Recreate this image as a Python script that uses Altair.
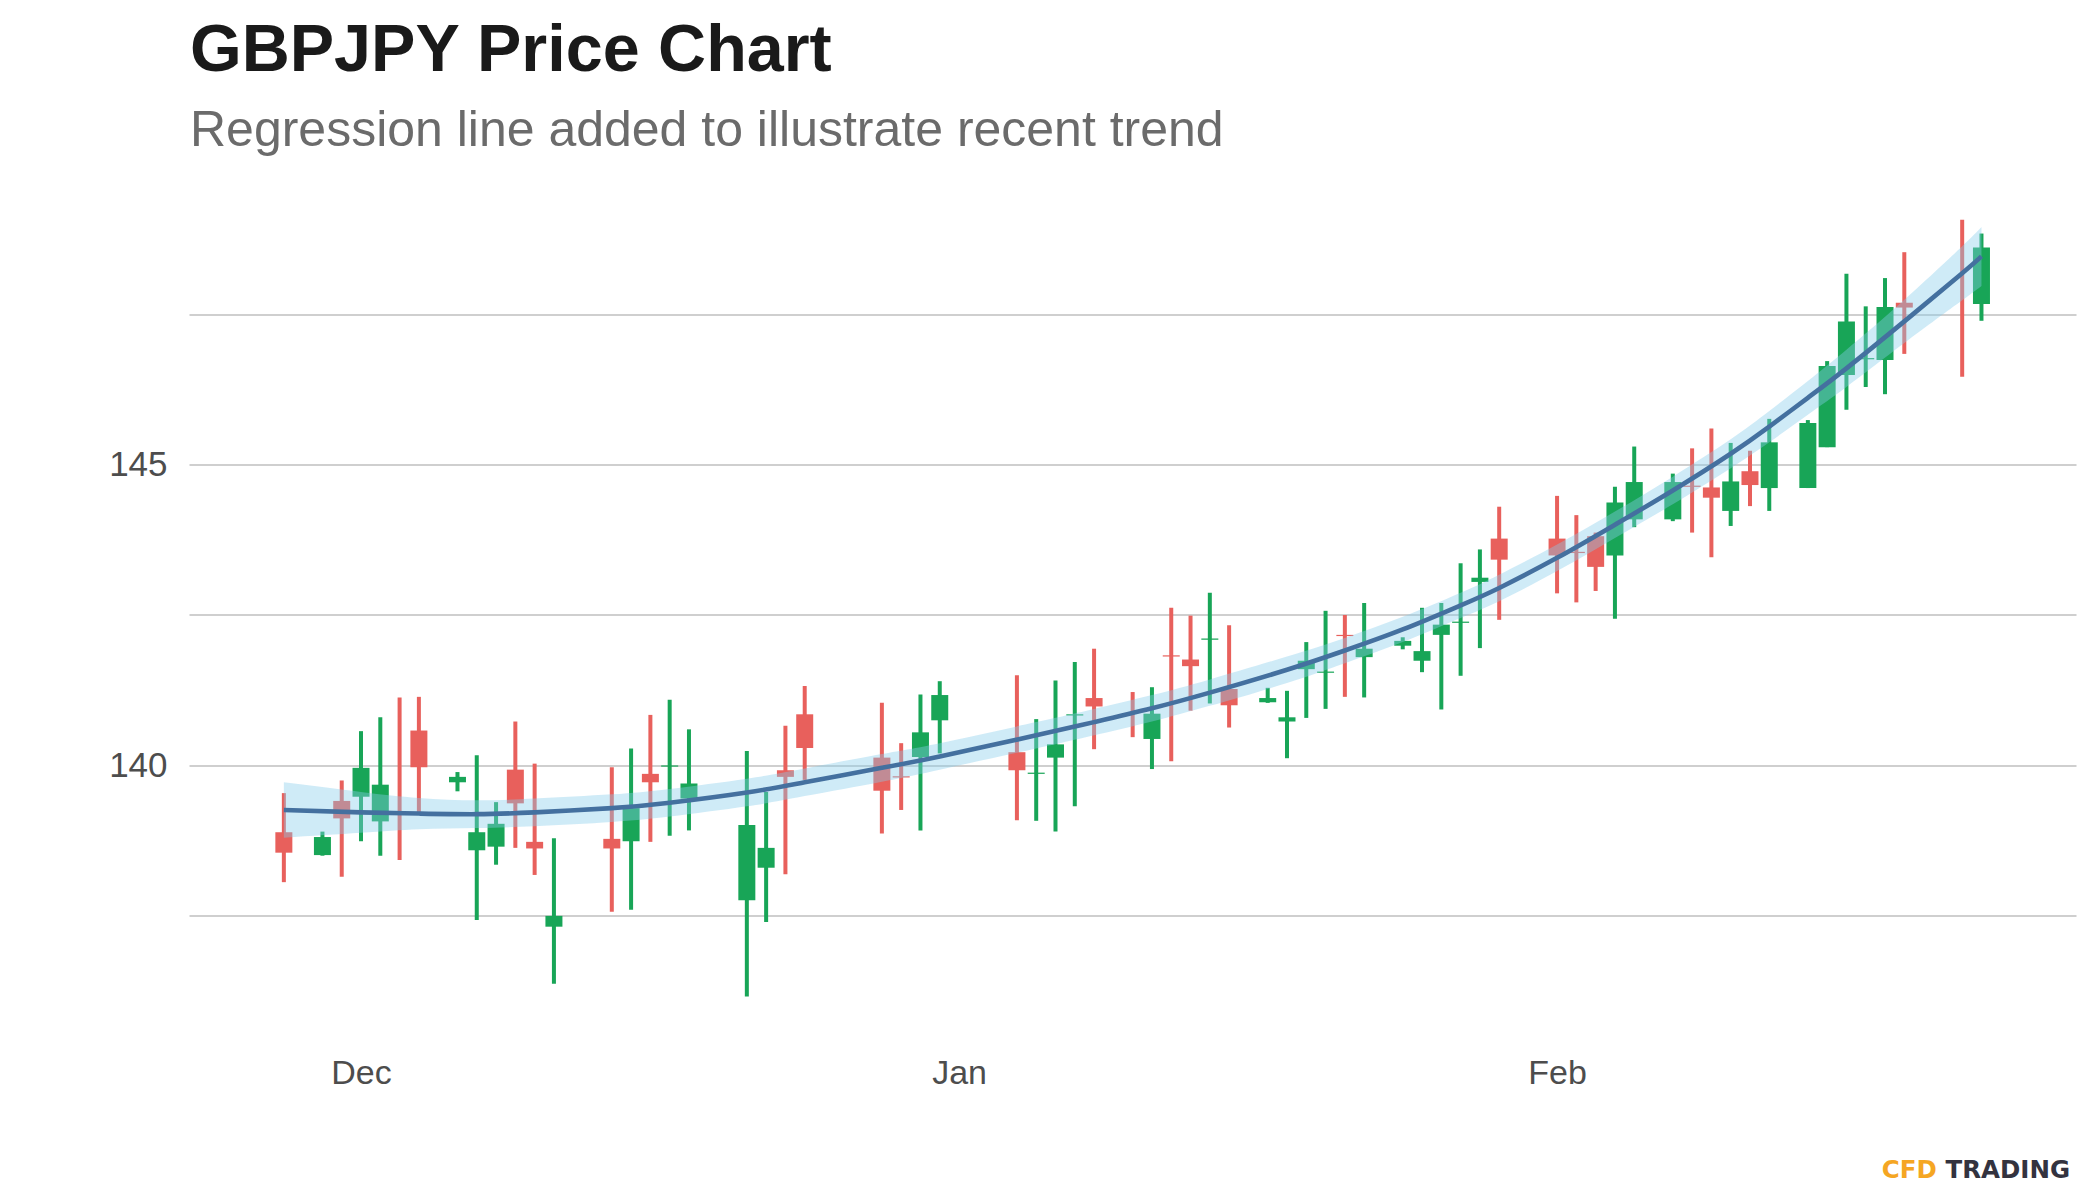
import altair as alt
import pandas as pd

# ---------------- data ----------------
dates = [
    "2020-11-27", "2020-11-29", "2020-11-30", "2020-12-01", "2020-12-02", "2020-12-03",
    "2020-12-04", "2020-12-06", "2020-12-07", "2020-12-08", "2020-12-09", "2020-12-10",
    "2020-12-11", "2020-12-14", "2020-12-15", "2020-12-16", "2020-12-17", "2020-12-18",
    "2020-12-21", "2020-12-22", "2020-12-23", "2020-12-24", "2020-12-28", "2020-12-29",
    "2020-12-30", "2020-12-31", "2021-01-04", "2021-01-05", "2021-01-06", "2021-01-07",
    "2021-01-08", "2021-01-10", "2021-01-11", "2021-01-12", "2021-01-13", "2021-01-14",
    "2021-01-15", "2021-01-17", "2021-01-18", "2021-01-19", "2021-01-20", "2021-01-21",
    "2021-01-22", "2021-01-24", "2021-01-25", "2021-01-26", "2021-01-27", "2021-01-28",
    "2021-01-29", "2021-02-01", "2021-02-02", "2021-02-03", "2021-02-04", "2021-02-05",
    "2021-02-07", "2021-02-08", "2021-02-09", "2021-02-10", "2021-02-11", "2021-02-12",
    "2021-02-14", "2021-02-15", "2021-02-16", "2021-02-17", "2021-02-18", "2021-02-19",
    "2021-02-22", "2021-02-23",
]
opens = [
    138.89, 138.51, 139.41, 139.48, 139.07, 139.20,
    140.58, 139.72, 138.59, 138.65, 139.93, 138.73,
    137.32, 138.78, 138.74, 139.86, 139.98, 139.45,
    137.76, 138.30, 139.92, 140.85, 140.13, 139.82,
    140.14, 140.75, 140.22, 139.86, 140.13, 140.83,
    141.12, 140.87, 140.44, 141.83, 141.76, 142.09,
    141.27, 141.05, 140.73, 141.60, 141.54, 142.17,
    141.80, 141.99, 141.74, 142.17, 142.37, 143.05,
    143.77, 143.77, 143.55, 143.81, 143.49, 144.09,
    144.09, 144.65, 144.62, 144.23, 144.89, 144.61,
    144.61, 145.29, 146.49, 146.75, 146.74, 147.69,
    148.18, 147.67,
]
highs = [
    139.54, 138.90, 139.75, 140.57, 140.80, 141.13,
    141.14, 139.89, 140.17, 139.39, 140.73, 140.03,
    138.79, 139.97, 140.28, 140.84, 141.09, 140.60,
    140.24, 139.56, 140.66, 141.32, 141.04, 140.37,
    141.18, 141.40, 141.50, 140.77, 141.41, 141.72,
    141.94, 141.22, 141.30, 142.62, 142.49, 142.87,
    142.33, 141.29, 141.24, 142.05, 142.57, 142.50,
    142.70, 142.13, 142.62, 142.70, 143.36, 143.59,
    144.30, 144.48, 144.16, 143.87, 144.63, 145.30,
    144.85, 145.27, 145.60, 145.36, 145.23, 145.76,
    145.74, 146.72, 148.17, 147.63, 148.10, 148.53,
    149.07, 148.84,
]
lows = [
    138.06, 138.50, 138.15, 138.74, 138.50, 138.43,
    139.21, 139.57, 137.43, 138.35, 138.63, 138.18,
    136.37, 137.57, 137.60, 138.73, 138.83, 138.92,
    136.16, 137.40, 138.19, 139.76, 138.87, 139.26,
    138.92, 140.20, 139.09, 139.08, 138.90, 139.32,
    140.27, 140.47, 139.94, 140.07, 140.91, 141.03,
    140.63, 141.04, 140.12, 140.79, 140.94, 141.14,
    141.13, 141.93, 141.55, 140.93, 141.49, 141.95,
    142.42, 142.86, 142.71, 142.90, 142.44, 143.96,
    144.06, 143.87, 143.46, 143.98, 144.31, 144.23,
    144.61, 145.29, 145.91, 146.29, 146.17, 146.84,
    146.46, 147.39,
]
closes = [
    138.55, 138.81, 139.12, 139.96, 139.68, 139.20,
    139.97, 139.81, 138.89, 139.03, 139.37, 138.62,
    137.50, 138.62, 139.29, 139.72, 140.00, 139.70,
    139.01, 138.63, 139.81, 140.29, 139.58, 139.80,
    140.55, 141.17, 139.92, 139.88, 140.35, 140.85,
    140.98, 140.87, 140.86, 141.81, 141.65, 142.11,
    141.00, 141.12, 140.80, 141.74, 141.56, 142.15,
    141.94, 142.07, 141.90, 142.34, 142.39, 143.12,
    143.42, 143.49, 143.53, 143.30, 144.37, 144.71,
    144.71, 144.63, 144.45, 144.72, 144.66, 145.37,
    145.69, 146.64, 147.38, 146.77, 147.62, 147.61,
    148.18, 148.61,
]

# regression (loess) line and its confidence band, read at points along the curve
smooth_dates = [
    "2020-11-27", "2020-12-01", "2020-12-04", "2020-12-07", "2020-12-10", "2020-12-14",
    "2020-12-17", "2020-12-21", "2020-12-24", "2020-12-28", "2020-12-31", "2021-01-05",
    "2021-01-08", "2021-01-11", "2021-01-14", "2021-01-18", "2021-01-21", "2021-01-24",
    "2021-01-27", "2021-01-29", "2021-02-01", "2021-02-04", "2021-02-07", "2021-02-10",
    "2021-02-12", "2021-02-14", "2021-02-16", "2021-02-19", "2021-02-22", "2021-02-23",
]
smooth_fit = [
    139.26, 139.22, 139.20, 139.19, 139.22, 139.29,
    139.38, 139.55, 139.72, 139.96, 140.15, 140.50,
    140.72, 140.95, 141.21, 141.59, 141.91, 142.26,
    142.66, 142.95, 143.45, 144.00, 144.57, 145.18,
    145.63, 146.11, 146.60, 147.38, 148.18, 148.46,
]
smooth_lo = [
    138.80, 138.88, 138.94, 138.96, 138.99, 139.06,
    139.15, 139.32, 139.49, 139.73, 139.93, 140.28,
    140.50, 140.73, 140.99, 141.37, 141.70, 142.05,
    142.45, 142.73, 143.23, 143.78, 144.34, 144.94,
    145.37, 145.83, 146.29, 147.02, 147.73, 147.97,
]
smooth_hi = [
    139.72, 139.56, 139.46, 139.42, 139.45, 139.52,
    139.61, 139.78, 139.95, 140.19, 140.37, 140.72,
    140.94, 141.17, 141.43, 141.81, 142.12, 142.47,
    142.87, 143.17, 143.67, 144.22, 144.80, 145.42,
    145.89, 146.39, 146.91, 147.74, 148.63, 148.95,
]

TITLE = "GBPJPY Price Chart"
SUBTITLE = "Regression line added to illustrate recent trend"
LOGO_A = "CFD"
LOGO_B = "TRADING"

# ---------------- tables ----------------
candles = pd.DataFrame({
    "date": dates, "open": opens, "high": highs, "low": lows, "close": closes,
})
candles["dir"] = ["up" if c > o else "down" for o, c in zip(opens, closes)]
smooth = pd.DataFrame({"date": smooth_dates, "fit": smooth_fit, "lo": smooth_lo, "hi": smooth_hi})

GREEN = "#18a557"
RED = "#e8605c"
FONT = "Liberation Sans"

x_scale = alt.Scale(
    type="utc",
    padding=0,
    domain=[
        alt.DateTime(year=2020, month=11, date=22, hours=2, utc=True),
        alt.DateTime(year=2021, month=2, date=27, hours=21, minutes=36, utc=True),
    ],
)
y_scale = alt.Scale(domain=[135.51, 149.72], nice=False, zero=False, padding=0)
color_scale = alt.Scale(domain=["up", "down"], range=[GREEN, RED])

x_axis = alt.Axis(
    values=[
        alt.DateTime(year=2020, month=12, date=1, utc=True),
        alt.DateTime(year=2021, month=1, date=1, utc=True),
        alt.DateTime(year=2021, month=2, date=1, utc=True),
    ],
    format="%b", grid=False, domain=False, ticks=False, tickSize=0,
    labelFontSize=34, labelFont=FONT, labelColor="#4d4d4d", labelPadding=21,
    title=None,
)
y_axis = alt.Axis(
    values=[137.5, 140, 142.5, 145, 147.5],
    labelExpr="datum.value % 5 == 0 ? format(datum.value, 'd') : ''",
    grid=True, gridColor="#cfcfcf", gridWidth=2, domain=False, ticks=False, tickSize=0,
    labelFontSize=35, labelFont=FONT, labelColor="#4d4d4d", labelPadding=22,
    title=None,
)

base = alt.Chart(candles).encode(x=alt.X("date:T", scale=x_scale, axis=x_axis))

wicks = base.mark_rule(strokeWidth=4).encode(
    y=alt.Y("low:Q", scale=y_scale, axis=y_axis),
    y2="high:Q",
    color=alt.Color("dir:N", scale=color_scale, legend=None),
)
bodies = base.mark_bar(size=17).encode(
    y=alt.Y("open:Q", scale=y_scale),
    y2="close:Q",
    color=alt.Color("dir:N", scale=color_scale, legend=None),
)

band = alt.Chart(smooth).mark_area(color="#87ceeb", opacity=0.4, interpolate="natural").encode(
    x=alt.X("date:T", scale=x_scale),
    y=alt.Y("lo:Q", scale=y_scale),
    y2="hi:Q",
)
line = alt.Chart(smooth).mark_line(color="#44709f", strokeWidth=4.6, interpolate="natural").encode(
    x=alt.X("date:T", scale=x_scale),
    y=alt.Y("fit:Q", scale=y_scale),
)

def label(text, x, y, font=FONT, **kw):
    return alt.Chart(pd.DataFrame({"t": [text]})).mark_text(
        baseline="alphabetic", font=font, **kw
    ).encode(x=alt.value(x), y=alt.value(y), text="t:N")

title = label(TITLE, 1, -109.6, align="left", fontSize=66.5, fontWeight="bold", color="#1a1a1a")
subtitle = label(SUBTITLE, 1, -35, align="left", fontSize=50, color="#6b6b6b")
logo_a = label(LOGO_A, 1692.7, 997, font="DejaVu Sans", align="left", fontSize=24.5,
               fontWeight="bold", color="#f5a623")
logo_b = label(LOGO_B, 1881, 997, font="DejaVu Sans", align="right", fontSize=24.5,
               fontWeight="bold", color="#33333f")

chart = alt.layer(
    wicks, bodies, band, line, title, subtitle, logo_a, logo_b
).properties(
    width=1887,
    height=855,
    padding={"left": 181, "top": 172.6, "right": 10, "bottom": 150},
    autosize=alt.AutoSizeParams(type="none"),
    background="white",
).configure_view(
    stroke=None,
    strokeWidth=0,
)

chart.save("out.html", embed_options={"renderer": "svg", "actions": False})
